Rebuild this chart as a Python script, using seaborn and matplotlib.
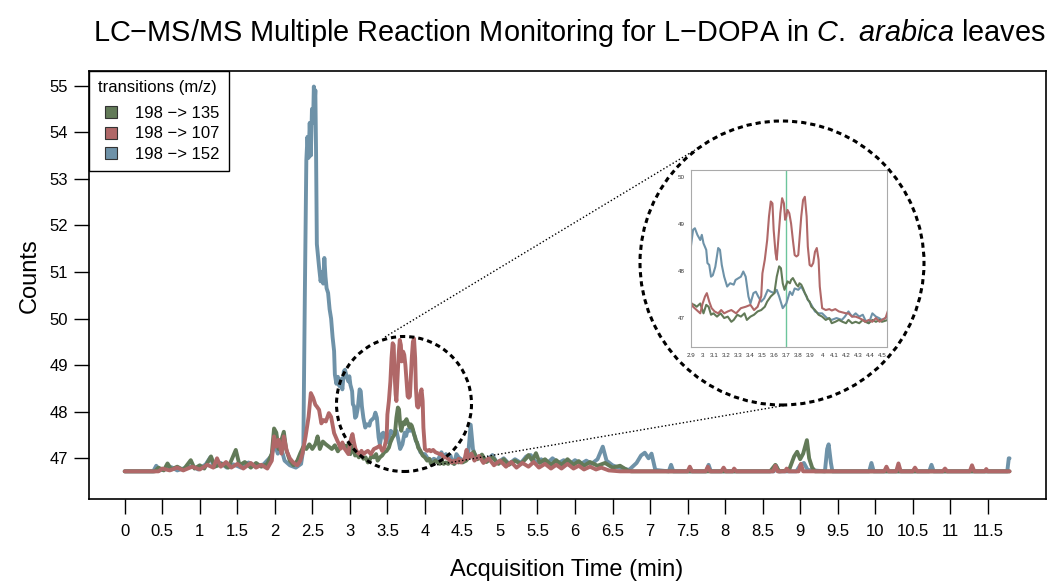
import matplotlib
matplotlib.use("Agg")
import matplotlib.pyplot as plt
import numpy as np
import pandas as pd
import seaborn as sns
from matplotlib.patches import Ellipse, Patch, Rectangle
from matplotlib.lines import Line2D
from matplotlib.legend_handler import HandlerPatch

# ---------------- data (time in min, counts) ----------------
LABEL_GREEN = "198 \u2212> 135"
LABEL_RED = "198 \u2212> 107"
LABEL_BLUE = "198 \u2212> 152"
legend_order = [LABEL_GREEN, LABEL_RED, LABEL_BLUE]
draw_order = [LABEL_BLUE, LABEL_GREEN, LABEL_RED]
colors = {LABEL_GREEN: "#627a58", LABEL_RED: "#b06868", LABEL_BLUE: "#6e92a8"}

blue_points = [
    (0.00, 46.72), (0.38, 46.72), (0.42, 46.84), (0.46, 46.74), (0.55, 46.77), (0.62, 46.81),
    (0.70, 46.74), (0.80, 46.79), (0.90, 46.83), (0.98, 46.76), (1.08, 46.87), (1.14, 47.02),
    (1.19, 46.82), (1.28, 46.90), (1.36, 46.80), (1.45, 46.87), (1.55, 46.80), (1.65, 46.91),
    (1.75, 46.82), (1.85, 46.87), (1.95, 47.04), (2.00, 47.30), (2.04, 47.10), (2.08, 47.25),
    (2.13, 46.95), (2.20, 46.85), (2.28, 46.80), (2.35, 46.88), (2.38, 47.20), (2.40, 50.50),
    (2.42, 53.40), (2.435, 53.90), (2.45, 53.45), (2.465, 54.20), (2.48, 53.50), (2.495, 54.50),
    (2.51, 54.20), (2.52, 54.98), (2.53, 54.60), (2.54, 54.90), (2.55, 53.50), (2.56, 51.60),
    (2.575, 51.35), (2.59, 51.10), (2.61, 50.80), (2.63, 51.00), (2.645, 50.75), (2.66, 51.30),
    (2.675, 50.90), (2.69, 50.65), (2.71, 50.55), (2.73, 50.20), (2.75, 50.00), (2.77, 49.60),
    (2.79, 49.30), (2.80, 48.80), (2.82, 48.60), (2.84, 48.75), (2.86, 48.55), (2.88, 48.70),
    (2.90, 48.48), (2.92, 48.87), (2.935, 48.90), (2.956, 48.76), (2.98, 48.65), (2.993, 48.76),
    (3.007, 48.58), (3.03, 48.44), (3.04, 48.16), (3.055, 48.12), (3.07, 47.87), (3.085, 47.90),
    (3.106, 48.08), (3.13, 48.48), (3.145, 48.44), (3.16, 48.12), (3.18, 47.87), (3.205, 47.66),
    (3.23, 47.73), (3.26, 47.70), (3.275, 47.80), (3.30, 47.84), (3.32, 47.87), (3.34, 47.98),
    (3.36, 47.87), (3.383, 47.45), (3.40, 47.30), (3.425, 47.52), (3.445, 47.55), (3.465, 47.45),
    (3.49, 47.34), (3.515, 47.41), (3.545, 47.59), (3.57, 47.55), (3.60, 47.52), (3.62, 47.59),
    (3.64, 47.45), (3.67, 47.20), (3.70, 47.30), (3.73, 47.55), (3.75, 47.48), (3.77, 47.62),
    (3.80, 47.59), (3.825, 47.66), (3.855, 47.52), (3.88, 47.38), (3.91, 47.27), (3.94, 47.13),
    (3.97, 47.09), (4.00, 47.09), (4.04, 46.99), (4.08, 46.95), (4.12, 46.99), (4.165, 46.95),
    (4.19, 47.02), (4.22, 47.13), (4.25, 47.02), (4.28, 47.09), (4.31, 47.02), (4.34, 47.06),
    (4.36, 46.95), (4.39, 46.88), (4.42, 47.09), (4.45, 47.02), (4.475, 46.99), (4.50, 46.95),
    (4.55, 47.02), (4.58, 47.15), (4.61, 47.72), (4.64, 47.20), (4.68, 47.00), (4.75, 47.05),
    (4.82, 46.95), (4.90, 47.07), (4.96, 46.90), (5.05, 47.00), (5.12, 46.88), (5.20, 46.98),
    (5.28, 46.90), (5.35, 47.04), (5.41, 47.07), (5.48, 46.90), (5.55, 46.98), (5.62, 46.88),
    (5.70, 47.00), (5.78, 46.90), (5.85, 46.96), (5.92, 46.86), (6.00, 46.96), (6.08, 46.88),
    (6.15, 46.95), (6.22, 46.88), (6.30, 46.98), (6.37, 47.25), (6.42, 46.95), (6.50, 46.85),
    (6.58, 46.80), (6.65, 46.78), (6.72, 46.75), (6.82, 46.90), (6.88, 47.06), (6.93, 47.12),
    (6.98, 47.00), (7.02, 47.10), (7.07, 46.75), (7.25, 46.72), (7.28, 46.86), (7.31, 46.72),
    (7.75, 46.72), (7.78, 46.86), (7.81, 46.72), (8.65, 46.72), (8.68, 46.84), (8.71, 46.72),
    (8.95, 46.72), (9.00, 46.85), (9.05, 46.90), (9.10, 46.75), (9.33, 46.72), (9.36, 47.20),
    (9.38, 47.30), (9.41, 46.90), (9.43, 46.72), (9.92, 46.72), (9.95, 46.90), (9.98, 46.72),
    (10.72, 46.72), (10.75, 46.86), (10.78, 46.72), (11.76, 46.72), (11.78, 47.00), (11.79, 47.00),
]

red_points = [
    (0.00, 46.72), (0.45, 46.72), (0.50, 46.78), (0.60, 46.74), (0.70, 46.80), (0.78, 46.74),
    (0.90, 46.82), (1.00, 46.76), (1.10, 46.86), (1.18, 46.80), (1.23, 47.00), (1.28, 46.82),
    (1.35, 46.92), (1.42, 46.80), (1.50, 46.88), (1.58, 46.78), (1.68, 46.90), (1.75, 46.80),
    (1.82, 46.86), (1.90, 46.78), (1.96, 46.95), (1.99, 47.47), (2.02, 47.25), (2.05, 47.40),
    (2.09, 47.10), (2.12, 47.47), (2.16, 47.15), (2.20, 47.00), (2.25, 46.90), (2.30, 46.85),
    (2.34, 46.95), (2.37, 47.11), (2.41, 47.47), (2.45, 47.89), (2.48, 48.40), (2.51, 48.30),
    (2.54, 48.15), (2.56, 48.11), (2.59, 48.04), (2.62, 47.75), (2.65, 47.82), (2.68, 47.79),
    (2.72, 47.97), (2.75, 47.89), (2.79, 47.54), (2.83, 47.39), (2.88, 47.21), (2.90, 47.34),
    (2.92, 47.23), (2.95, 47.16), (2.98, 47.09), (3.00, 47.30), (3.02, 47.45), (3.035, 47.52),
    (3.055, 47.34), (3.075, 47.20), (3.10, 47.13), (3.13, 47.09), (3.155, 47.16), (3.18, 47.09),
    (3.21, 47.13), (3.24, 47.16), (3.28, 47.09), (3.32, 47.20), (3.36, 47.23), (3.40, 47.27),
    (3.43, 47.16), (3.46, 47.23), (3.49, 47.45), (3.50, 47.94), (3.52, 48.23), (3.54, 48.65),
    (3.555, 49.15), (3.57, 49.47), (3.584, 49.43), (3.594, 48.87), (3.61, 48.37), (3.62, 48.23),
    (3.635, 48.72), (3.65, 49.22), (3.665, 49.54), (3.68, 49.43), (3.69, 49.08), (3.70, 49.15),
    (3.71, 49.29), (3.725, 49.22), (3.74, 49.00), (3.755, 48.65), (3.77, 48.33), (3.785, 48.30),
    (3.80, 48.33), (3.81, 48.65), (3.825, 49.15), (3.84, 49.50), (3.855, 49.57), (3.87, 49.15),
    (3.88, 48.51), (3.895, 48.12), (3.91, 48.09), (3.925, 48.16), (3.94, 48.40), (3.955, 48.48),
    (3.97, 48.23), (3.98, 47.66), (4.00, 47.20), (4.03, 47.16), (4.06, 47.18), (4.08, 47.15),
    (4.11, 47.18), (4.14, 47.13), (4.17, 47.11), (4.20, 47.09), (4.22, 47.09), (4.25, 47.02),
    (4.28, 47.02), (4.31, 46.99), (4.34, 46.95), (4.36, 46.91), (4.39, 46.95), (4.42, 46.91),
    (4.45, 46.99), (4.48, 46.91), (4.50, 46.95), (4.53, 46.99), (4.555, 47.18), (4.58, 47.00),
    (4.62, 47.10), (4.66, 46.95), (4.72, 47.05), (4.78, 46.90), (4.85, 47.00), (4.92, 46.85),
    (5.00, 46.95), (5.08, 46.82), (5.15, 46.92), (5.22, 46.80), (5.30, 46.90), (5.38, 46.82),
    (5.45, 46.92), (5.52, 46.80), (5.60, 46.88), (5.68, 46.78), (5.75, 46.86), (5.82, 46.78),
    (5.90, 46.88), (5.98, 46.78), (6.05, 46.84), (6.12, 46.76), (6.20, 46.82), (6.28, 46.76),
    (6.35, 46.80), (6.45, 46.74), (6.60, 46.72), (7.50, 46.72), (7.53, 46.82), (7.56, 46.72),
    (7.74, 46.72), (7.77, 46.82), (7.80, 46.72), (7.95, 46.72), (7.98, 46.80), (8.01, 46.72),
    (8.10, 46.72), (8.12, 46.78), (8.15, 46.72), (8.64, 46.72), (8.67, 46.84), (8.70, 46.72),
    (8.80, 46.72), (8.82, 46.78), (8.85, 46.72), (8.98, 46.72), (9.01, 46.88), (9.04, 46.72),
    (10.12, 46.72), (10.15, 46.82), (10.18, 46.72), (10.28, 46.72), (10.31, 46.89), (10.34, 46.72),
    (10.50, 46.72), (10.53, 46.80), (10.56, 46.72), (10.90, 46.72), (10.93, 46.78), (10.96, 46.72),
    (11.26, 46.72), (11.29, 46.85), (11.32, 46.72), (11.46, 46.72), (11.48, 46.77), (11.50, 46.72),
    (11.79, 46.72),
]

green_points = [
    (0.00, 46.72), (0.40, 46.72), (0.45, 46.80), (0.52, 46.74), (0.57, 46.89), (0.62, 46.76),
    (0.70, 46.82), (0.78, 46.75), (0.88, 46.96), (0.93, 46.78), (1.00, 46.85), (1.06, 46.78),
    (1.15, 47.04), (1.20, 46.82), (1.30, 46.88), (1.38, 46.80), (1.48, 47.18), (1.53, 46.85),
    (1.60, 46.92), (1.68, 46.80), (1.75, 46.90), (1.82, 46.82), (1.90, 46.88), (1.96, 47.10),
    (1.99, 47.64), (2.02, 47.55), (2.05, 47.20), (2.08, 47.35), (2.12, 47.57), (2.15, 47.20),
    (2.20, 46.95), (2.25, 46.85), (2.30, 46.95), (2.34, 47.11), (2.38, 47.25), (2.42, 47.20),
    (2.46, 47.30), (2.50, 47.20), (2.54, 47.30), (2.57, 47.47), (2.60, 47.20), (2.64, 47.36),
    (2.68, 47.30), (2.72, 47.25), (2.76, 47.20), (2.80, 47.28), (2.84, 47.15), (2.88, 47.25),
    (2.90, 47.30), (2.93, 47.27), (2.95, 47.23), (2.98, 47.30), (3.007, 47.09), (3.03, 47.27),
    (3.05, 47.23), (3.07, 47.06), (3.09, 47.09), (3.12, 47.02), (3.15, 47.09), (3.18, 46.99),
    (3.21, 47.02), (3.24, 46.91), (3.26, 46.95), (3.29, 47.06), (3.32, 47.02), (3.35, 47.09),
    (3.37, 46.95), (3.40, 47.02), (3.43, 47.06), (3.46, 47.13), (3.49, 47.16), (3.52, 47.23),
    (3.54, 47.34), (3.57, 47.45), (3.60, 47.52), (3.62, 47.87), (3.64, 48.09), (3.655, 48.05),
    (3.67, 47.73), (3.685, 47.59), (3.70, 47.70), (3.71, 47.77), (3.73, 47.73), (3.74, 47.80),
    (3.755, 47.84), (3.77, 47.77), (3.785, 47.70), (3.80, 47.66), (3.81, 47.73), (3.825, 47.70),
    (3.84, 47.62), (3.855, 47.52), (3.87, 47.45), (3.88, 47.38), (3.895, 47.34), (3.91, 47.23),
    (3.94, 47.16), (3.97, 47.06), (4.00, 47.02), (4.03, 46.95), (4.06, 46.99), (4.08, 46.88),
    (4.11, 46.91), (4.14, 46.95), (4.17, 46.91), (4.20, 46.88), (4.22, 46.95), (4.25, 46.88),
    (4.28, 46.91), (4.31, 46.88), (4.34, 46.95), (4.36, 46.91), (4.39, 46.88), (4.42, 46.95),
    (4.45, 46.91), (4.48, 46.95), (4.50, 46.91), (4.55, 46.95), (4.60, 47.05), (4.65, 47.14),
    (4.70, 46.98), (4.76, 47.08), (4.82, 46.92), (4.90, 47.02), (4.98, 46.88), (5.05, 46.98),
    (5.12, 46.86), (5.20, 46.95), (5.28, 46.88), (5.35, 47.00), (5.38, 47.07), (5.43, 46.95),
    (5.48, 47.11), (5.53, 46.90), (5.60, 46.98), (5.68, 46.86), (5.75, 46.96), (5.82, 46.86),
    (5.90, 46.98), (5.98, 46.86), (6.05, 46.94), (6.12, 46.84), (6.20, 46.92), (6.30, 46.84),
    (6.40, 46.90), (6.50, 46.80), (6.60, 46.84), (6.70, 46.74), (6.75, 46.72), (8.60, 46.72),
    (8.67, 46.86), (8.72, 46.72), (8.85, 46.74), (8.92, 47.04), (8.96, 47.14), (9.00, 46.98),
    (9.04, 47.10), (9.09, 47.39), (9.12, 47.00), (9.16, 46.80), (9.20, 46.72), (11.79, 46.72),
]

x_ticks = [0, 0.5, 1, 1.5, 2, 2.5, 3, 3.5, 4, 4.5, 5, 5.5, 6, 6.5, 7, 7.5, 8, 8.5, 9, 9.5, 10, 10.5, 11, 11.5]
x_tick_labels = ["0", "0.5", "1", "1.5", "2", "2.5", "3", "3.5", "4", "4.5", "5", "5.5", "6", "6.5",
                 "7", "7.5", "8", "8.5", "9", "9.5", "10", "10.5", "11", "11.5"]
y_ticks = [47, 48, 49, 50, 51, 52, 53, 54, 55]
inset_x_ticks = [2.9, 3.0, 3.1, 3.2, 3.3, 3.4, 3.5, 3.6, 3.7, 3.8, 3.9, 4.0, 4.1, 4.2, 4.3, 4.4, 4.5]
inset_x_labels = ["2.9", "3", "3.1", "3.2", "3.3", "3.4", "3.5", "3.6", "3.7", "3.8", "3.9", "4",
                  "4.1", "4.2", "4.3", "4.4", "4.5"]
inset_y_ticks = [47, 48, 49, 50]
marker_time = 3.7

# ---------------- build table ----------------
frames = []
for lab, pts in [(LABEL_BLUE, blue_points), (LABEL_GREEN, green_points), (LABEL_RED, red_points)]:
    t, v = zip(*pts)
    frames.append(pd.DataFrame({"time": t, "counts": v, "transition": lab}))
df = pd.concat(frames, ignore_index=True)

# ---------------- style ----------------
sns.set_theme(style="white")
plt.rcParams["font.family"] = ["Liberation Sans", "DejaVu Sans"]
plt.rcParams["mathtext.fontset"] = "custom"
plt.rcParams["mathtext.rm"] = "Liberation Sans"
plt.rcParams["mathtext.it"] = "Liberation Sans:italic"
plt.rcParams["text.color"] = "black"
plt.rcParams["axes.labelcolor"] = "black"

W, H = 1053, 582
fig = plt.figure(figsize=(W / 100, H / 100), dpi=100)


def fx(px):
    return px / W


def fy(py):
    return 1 - py / H


L, R, T, B = 89.3, 1045.7, 70.7, 499.3
ax = fig.add_axes([fx(L), fy(B), fx(R) - fx(L), fy(T) - fy(B)])

sns.lineplot(data=df, x="time", y="counts", hue="transition", hue_order=draw_order,
             palette=colors, estimator=None, sort=False, legend=False, linewidth=2.8, ax=ax)

ax.set_xlim(-0.472, 12.272)
ax.set_ylim(46.12, 55.32)
ax.set_xticks(x_ticks)
ax.set_xticklabels(x_tick_labels)
ax.set_yticks(y_ticks)
ax.set_yticklabels([str(v) for v in y_ticks])
ax.tick_params(axis="both", which="major", direction="out", length=10.8, width=1.0,
               color="black", labelcolor="black", labelsize=12, bottom=True, left=True)
ax.tick_params(axis="x", pad=7)
ax.tick_params(axis="y", pad=4.3)
for s in ax.spines.values():
    s.set_color("black")
    s.set_linewidth(1.2)

ax.set_xlabel("Acquisition Time (min)", fontsize=17, va="center", color="black")
ax.set_ylabel("Counts", fontsize=17, va="center", color="black")
ax.xaxis.set_label_coords((567 - L) / (R - L), -(570 - B) / (B - T))
ax.yaxis.set_label_coords((30 - L) / (R - L), (B - 276) / (B - T))


class IndentedSquare(HandlerPatch):
    def create_artists(self, legend, orig_handle, xdescent, ydescent, width, height, fontsize, trans):
        size = 0.72 * fontsize
        p = Rectangle((width - xdescent - size, -ydescent + (height - size) / 2), size, size)
        self.update_prop(p, orig_handle, legend)
        p.set_transform(trans)
        return [p]


handles = [Patch(facecolor=colors[l], edgecolor="#333333", linewidth=0.8, label=l) for l in legend_order]
leg = ax.legend(handles=handles, title="transitions (m/z)", loc="upper left", bbox_to_anchor=(0, 1),
                borderaxespad=0, frameon=True, fancybox=False, edgecolor="black", framealpha=1,
                fontsize=12, title_fontsize=12, handlelength=1.14, handleheight=0.75,
                handletextpad=1.06, labelspacing=0.33, borderpad=0.55, alignment="left",
                handler_map={Patch: IndentedSquare()})
leg.get_frame().set_linewidth(1.0)
for txt in leg.get_texts():
    txt.set_color("black")
leg.get_title().set_color("black")
try:
    leg._legend_box.sep = 8
except Exception:
    pass

fig.text(fx(569), fy(33),
         "LC\u2212MS/MS Multiple Reaction Monitoring for L\u2212DOPA in $\\mathit{C.}$ $\\mathit{arabica}$ leaves",
         ha="center", va="center", fontsize=20.8, color="black")

# ---------------- zoom circles and connectors ----------------
big_c, big_r = (782, 263), 142
small_c, small_r = (404, 404), 67.5
for (cx, cy), r in [(big_c, big_r), (small_c, small_r)]:
    e = Ellipse((fx(cx), fy(cy)), 2 * r / W, 2 * r / H, transform=fig.transFigure, fill=False,
                edgecolor="black", linewidth=2.2, linestyle=(0, (1.7, 1.3)), zorder=5)
    fig.add_artist(e)

for (x0, y0), (x1, y1) in [((385, 337), (695, 150)), ((430, 466), (787, 405))]:
    fig.add_artist(Line2D([fx(x0), fx(x1)], [fy(y0), fy(y1)], transform=fig.transFigure,
                          color="black", linewidth=1.0, linestyle=(0, (1, 1.6)), zorder=5))

# ---------------- inset ----------------
iL, iR, iT, iB = 690.7, 886.7, 170, 346.7
axin = fig.add_axes([fx(iL), fy(iB), fx(iR) - fx(iL), fy(iT) - fy(iB)])
axin.set_facecolor("white")
sns.lineplot(data=df, x="time", y="counts", hue="transition", hue_order=draw_order,
             palette=colors, estimator=None, sort=False, legend=False, linewidth=1.5, ax=axin)
axin.axvline(marker_time, color="#6cc59c", linewidth=1.0, zorder=0.5)
axin.set_xlim(2.9, 4.54)
axin.set_ylim(46.38, 50.14)
axin.set_xticks(inset_x_ticks)
axin.set_xticklabels(inset_x_labels)
axin.set_yticks(inset_y_ticks)
axin.set_yticklabels([str(v) for v in inset_y_ticks])
axin.tick_params(axis="both", length=0, labelsize=4.5, labelcolor="#333333", bottom=True, left=True)
axin.tick_params(axis="x", pad=4.5)
axin.tick_params(axis="y", pad=4.5)
axin.set_xlabel("")
axin.set_ylabel("")
for s in axin.spines.values():
    s.set_color("#aaaaaa")
    s.set_linewidth(0.8)

fig.savefig("out.png", dpi=100)
